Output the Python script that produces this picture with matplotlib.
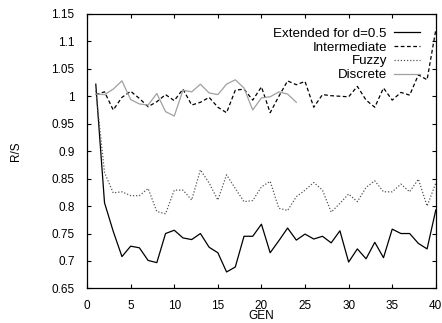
import matplotlib
matplotlib.use("Agg")
import matplotlib.pyplot as plt

plt.rcParams['font.family'] = ['Liberation Sans', 'DejaVu Sans']

# 数据
gen = list(range(1, 41))
extended = [1.022, 0.806, 0.754, 0.708, 0.727, 0.724, 0.701, 0.697, 0.750, 0.756,
            0.742, 0.739, 0.750, 0.725, 0.715, 0.680, 0.689, 0.745, 0.745, 0.767,
            0.715, 0.737, 0.760, 0.738, 0.749, 0.740, 0.745, 0.733, 0.755, 0.698,
            0.722, 0.704, 0.734, 0.706, 0.758, 0.750, 0.750, 0.732, 0.722, 0.793]
intermediate = [1.003, 1.008, 0.975, 0.998, 1.009, 0.996, 0.981, 0.990, 1.003, 0.992,
                1.013, 0.984, 0.989, 0.998, 0.980, 0.970, 1.011, 1.013, 0.993, 1.017,
                0.970, 1.000, 1.028, 1.021, 1.027, 0.980, 1.003, 1.001, 1.000, 0.999,
                1.018, 0.993, 0.980, 1.015, 0.993, 1.007, 1.002, 1.039, 1.030, 1.121]
fuzzy = [1.010, 0.861, 0.824, 0.826, 0.819, 0.819, 0.832, 0.790, 0.786, 0.829,
         0.829, 0.811, 0.866, 0.842, 0.811, 0.857, 0.832, 0.808, 0.810, 0.835,
         0.845, 0.796, 0.792, 0.817, 0.829, 0.843, 0.829, 0.789, 0.805, 0.822,
         0.808, 0.834, 0.846, 0.826, 0.826, 0.840, 0.826, 0.849, 0.800, 0.842]
gen_discrete = list(range(1, 25))
discrete = [1.004, 1.003, 1.013, 1.028, 0.994, 0.986, 0.984, 1.005, 0.972, 0.964,
            1.011, 1.008, 1.022, 1.006, 1.003, 1.022, 1.030, 1.015, 0.975, 0.997,
            0.999, 1.008, 1.004, 0.989]

fig = plt.figure(figsize=(4.42, 3.23), dpi=100)
ax = fig.add_axes([0.197, 0.107, 0.789, 0.850])

ax.plot(gen, extended, color='black', linewidth=0.9, label='Extended for d=0.5')
ax.plot(gen, intermediate, color='black', linewidth=0.9, linestyle=(0, (3, 2)), label='Intermediate')
ax.plot(gen, fuzzy, color='#555555', linewidth=0.9, linestyle=(0, (1, 1.5)), label='Fuzzy')
ax.plot(gen_discrete, discrete, color='#a0a0a0', linewidth=0.9, label='Discrete')

ax.set_xlim(0, 40)
ax.set_ylim(0.65, 1.15)
ax.set_xticks(range(0, 41, 5))
ax.set_yticks([0.65, 0.7, 0.75, 0.8, 0.85, 0.9, 0.95, 1, 1.05, 1.1, 1.15])
ax.set_yticklabels(['0.65', '0.7', '0.75', '0.8', '0.85', '0.9', '0.95', '1', '1.05', '1.1', '1.15'])
ax.tick_params(direction='in', top=True, right=True, length=3, width=0.8, labelsize=8.5)
ax.tick_params(axis='y', pad=9)
ax.tick_params(axis='x', pad=8)
for s in ax.spines.values():
    s.set_linewidth(0.9)

ax.set_xlabel('GEN', fontsize=8.5, labelpad=-1)
ax.set_ylabel('R/S', fontsize=8.5, labelpad=21)

ax.legend(loc='upper right', frameon=False, markerfirst=False, fontsize=9.6,
          handlelength=2.0, handletextpad=0.5, labelspacing=0.12,
          borderaxespad=0.5, bbox_to_anchor=(0.99, 0.995))

fig.savefig('out.png', dpi=100)
